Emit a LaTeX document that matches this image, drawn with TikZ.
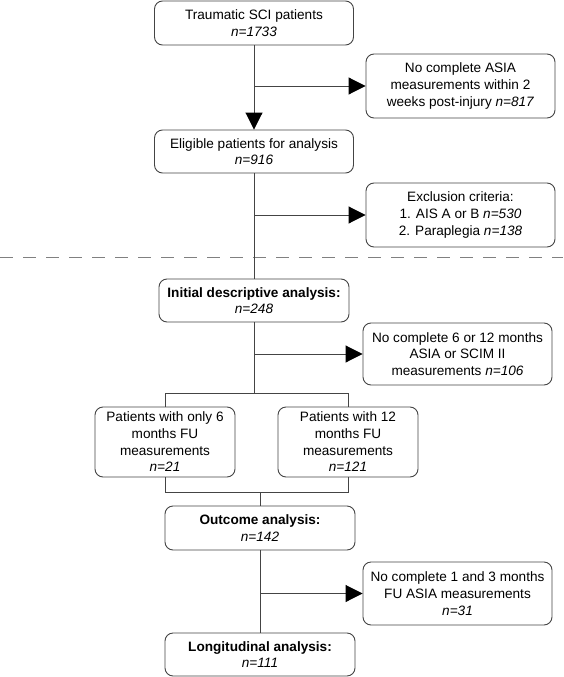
\documentclass[tikz,border=0pt]{standalone}
\usepackage{fontspec}
\setmainfont{Liberation Sans}
\usetikzlibrary{arrows.meta}
\definecolor{linegray}{HTML}{444444}

\begin{document}
\begin{tikzpicture}[x=1pt,y=-1pt,
    arr/.style={-{Triangle[length=17pt,width=17pt,color=black]}},
    sep/.style={draw=gray, line width=0.9pt, dash pattern=on 13pt off 10pt}]

        \useasboundingbox (0,0) rectangle (563,677);

        \begin{scope}[every node/.style={draw=linegray, line width=0.9pt, rounded corners=8pt, align=center, inner sep=1pt,
            font=\fontsize{13.6}{16.7}\selectfont}]
          \node[minimum width=199pt, minimum height=44pt] (1)  at (254,23)    {Traumatic SCI patients\\\textit{n=1733}};
          \node[minimum width=189pt, minimum height=64pt] (2)  at (460.5,86)  {No complete ASIA\\measurements within 2\\weeks post-injury \textit{n=817}};
          \node[minimum width=199pt, minimum height=43pt] (3)  at (254,151.5) {Eligible patients for analysis\\\textit{n=916}};
          \node[minimum width=189pt, minimum height=64pt] (4)  at (460.5,215) {Exclusion criteria:\\1. AIS A or B \textit{n=530}\\2. Paraplegia \textit{n=138}};
          \node[minimum width=190pt, minimum height=43pt] (5)  at (254,300.5) {\textbf{Initial descriptive analysis:}\\\textit{n=248}};
          \node[minimum width=189pt, minimum height=62pt] (6)  at (457.5,354) {No complete 6 or 12 months\\ASIA or SCIM II\\measurements \textit{n=106}};
          \node[minimum width=140pt, minimum height=70pt] (7)  at (165,442)   {Patients with only 6\\months FU\\measurements\\\textit{n=21}};
          \node[minimum width=140pt, minimum height=70pt] (8)  at (348,442)   {Patients with 12\\months FU\\measurements\\\textit{n=121}};
          \node[minimum width=190pt, minimum height=44pt] (9)  at (260,528)   {\textbf{Outcome analysis:}\\\textit{n=142}};
          \node[minimum width=189pt, minimum height=63pt] (10) at (457.5,593.5) {No complete 1 and 3 months\\FU ASIA measurements\\\textit{n=31}};
          \node[minimum width=190pt, minimum height=43pt] (11) at (260,654.5) {\textbf{Longitudinal analysis:}\\\textit{n=111}};
        \end{scope}

        \coordinate (dl) at (0,257);
        \coordinate (dr) at (563,257);
        \coordinate (s)  at (0,393);
        \coordinate (m)  at (0,492);

        \draw[sep] (dl) -- (dr);

        \begin{scope}[draw=linegray, line width=0.9pt]
          \draw[arr] (1) -- (3);
          \draw[arr] (1 |- 2) -- (2);
          \draw (3) -- (5);
          \draw[arr] (3 |- 4) -- (4);
          \draw (5) -- (5 |- s);
          \draw[arr] (5 |- 6) -- (6);
          \draw (7) -- (7 |- s) -- (8 |- s) -- (8);
          \draw (7) -- (7 |- m) -- (8 |- m) -- (8);
          \draw (9 |- m) -- (9);
          \draw (9) -- (11);
          \draw[arr] (9 |- 10) -- (10);
        \end{scope}

      \end{tikzpicture}
\end{document}
